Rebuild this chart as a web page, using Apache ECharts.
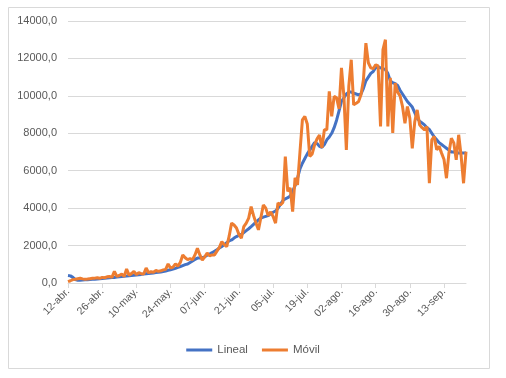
<!DOCTYPE html>
<html>
<head>
<meta charset="utf-8">
<script src="https://cdn.jsdelivr.net/npm/echarts@6/dist/echarts.min.js"></script>
<style>html,body{margin:0;padding:0;background:#fff;}#c{width:506px;height:378px;}</style>
</head>
<body>
<div id="c"></div>
<script>
// Daily categories: 12-abr to 22-sep
var startDate = [2020, 3, 12];
var dayCount = 164;
var monthNames = ['ene','feb','mar','abr','may','jun','jul','ago','sep','oct','nov','dic'];
var yTicks = [0, 2000, 4000, 6000, 8000, 10000, 12000, 14000];

var lineal = [
 400,380,300,180,150,150,160,170,180,190,
 200,205,215,225,235,250,265,280,290,300,
 315,330,345,360,370,385,400,415,430,445,
 460,480,495,510,525,540,555,570,590,610,
 640,680,710,740,780,830,880,930,980,1015,
 1100,1180,1260,1330,1330,1350,1400,1480,1550,1620,
 1700,1780,1870,1950,2050,2150,2250,2300,2400,2480,
 2540,2600,2700,2800,2900,3010,3130,3250,3370,3470,
 3520,3560,3600,3700,3780,3850,4000,4200,4400,4500,
 4560,4650,4900,5200,5600,6100,6400,6650,6900,7100,
 7300,7500,7450,7300,7250,7400,7650,7800,8000,8300,
 8700,9200,9700,9900,10100,10200,10200,10150,10100,10050,
 10100,10400,10800,11000,11200,11300,11500,11550,11500,11450,
 11400,11200,10800,10700,10650,10550,10300,10100,9900,9700,
 9550,9400,9100,8800,8650,8550,8450,8300,8200,8000,
 7800,7650,7500,7400,7300,7200,7100,7000,7000,6950,
 6950,6950,6950,6950
];

var movil = [
 70,120,180,200,230,250,220,200,210,230,
 250,260,280,250,300,280,330,350,300,620,
 350,400,480,350,750,420,500,620,450,550,
 500,480,800,550,600,580,670,620,650,700,
 730,1020,800,850,1020,900,1100,1500,1350,1250,
 1300,1250,1500,1850,1500,1230,1400,1600,1450,1500,
 1500,1700,1900,2210,2050,1940,2500,3200,3100,2940,
 2600,2400,3010,3200,3470,4080,3600,3200,2840,3500,
 4170,4000,3600,3800,3550,3200,4280,4170,4300,6760,
 4890,5080,3815,5620,5240,7000,8720,8900,8500,6760,
 6900,7380,7700,7900,7220,8190,8190,10240,8900,9970,
 9900,9300,11500,9970,7115,10500,11930,9520,9600,9700,
 10060,10860,12820,11770,11500,11450,11660,11600,8360,12470,
 13000,8360,10970,8020,10680,10200,10000,9430,8540,9430,
 8800,7200,8600,9250,8450,8300,8190,8360,5330,7650,
 7830,7120,7300,6940,6600,5600,6940,7740,7490,6580,
 7920,6800,5330,7020
];

var categories = [];
for (var i = 0; i < dayCount; i++) {
  var d = new Date(startDate[0], startDate[1], startDate[2] + i);
  var dd = d.getDate();
  categories.push((dd < 10 ? '0' + dd : '' + dd) + '-' + monthNames[d.getMonth()] + '.');
}

var chart = echarts.init(document.getElementById('c'), null, {renderer: 'canvas'});
var font = 'Liberation Sans, Arial, sans-serif';
chart.setOption({
  animation: false,
  backgroundColor: '#ffffff',
  graphic: [{
    type: 'rect',
    shape: {x: 8.5, y: 7.5, width: 481, height: 361},
    style: {fill: 'none', stroke: '#d9d9d9', lineWidth: 1},
    silent: true
  }],
  grid: {left: 68, right: 40, top: 21, bottom: 95, containLabel: false},
  legend: {
    bottom: 17,
    left: 'center',
    itemWidth: 26,
    itemHeight: 3,
    itemGap: 14,
    icon: 'rect',
    textStyle: {color: '#595959', fontSize: 11.5, fontFamily: font},
    data: ['Lineal', 'Móvil']
  },
  xAxis: {
    type: 'category',
    data: categories,
    boundaryGap: false,
    axisLine: {lineStyle: {color: '#d9d9d9', width: 1}},
    axisTick: {show: true, interval: 13, length: 5, lineStyle: {color: '#d9d9d9'}},
    axisLabel: {interval: 13, rotate: 45, color: '#595959', fontSize: 10.5, fontFamily: font, margin: 7},
    splitLine: {show: false}
  },
  yAxis: {
    type: 'value',
    min: yTicks[0],
    max: yTicks[yTicks.length - 1],
    interval: 2000,
    axisLine: {show: false},
    axisTick: {show: false},
    axisLabel: {
      color: '#595959', fontSize: 11, fontFamily: font, margin: 11,
      formatter: function (v) { return v.toFixed(1).replace('.', ','); }
    },
    splitLine: {lineStyle: {color: '#d9d9d9', width: 1}}
  },
  series: [
    {
      name: 'Lineal', type: 'line', data: lineal, showSymbol: false, symbol: 'none',
      lineStyle: {color: '#4472C4', width: 3}, itemStyle: {color: '#4472C4'}
    },
    {
      name: 'Móvil', type: 'line', data: movil, showSymbol: false, symbol: 'none',
      lineStyle: {color: '#ED7D31', width: 3}, itemStyle: {color: '#ED7D31'}
    }
  ]
});
</script>
</body>
</html>
